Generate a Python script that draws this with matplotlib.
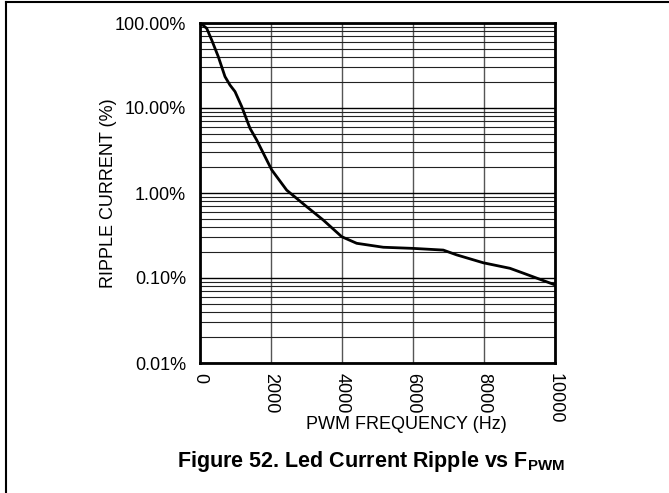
import matplotlib.pyplot as plt
from matplotlib.ticker import FixedLocator, LogLocator, NullFormatter
from matplotlib.lines import Line2D

plt.rcParams['font.family'] = ['Liberation Sans', 'DejaVu Sans']
plt.rcParams['mathtext.fontset'] = 'custom'
plt.rcParams['mathtext.rm'] = 'Liberation Sans'
plt.rcParams['mathtext.bf'] = 'Liberation Sans:bold'

# curve (frequency in Hz, ripple in %)
freq = [0, 76, 189, 330, 515, 704, 845, 986, 1175, 1408, 1597, 2020, 2442,
        3006, 3473, 3992, 4414, 5163, 6008, 6854, 7231, 7980, 8732, 9107, 10000]
ripple = [100, 94.7, 86.5, 63, 40.2, 23.4, 18.6, 15.6, 10.4, 5.77, 4.2, 1.87, 1.08,
          0.69, 0.48, 0.306, 0.256, 0.230, 0.223, 0.213, 0.187, 0.151, 0.130, 0.114, 0.083]

x_ticks = [0, 2000, 4000, 6000, 8000, 10000]
y_ticks = [0.01, 0.1, 1, 10, 100]
y_labels = ['0.01%', '0.10%', '1.00%', '10.00%', '100.00%']

fig = plt.figure(figsize=(6.69, 4.93), dpi=100)
ax = fig.add_axes([200 / 669, 1 - 363 / 493, 355 / 669, 340 / 493])

ax.set_yscale('log')
ax.set_xlim(0, 10000)
ax.set_ylim(0.01, 100)

ax.plot(freq, ripple, color='black', lw=2, zorder=3)

ax.xaxis.set_major_locator(FixedLocator(x_ticks))
ax.set_xticks(x_ticks)
ax.set_xticklabels([str(v) for v in x_ticks], rotation=270, fontsize=13)
ax.set_yticks(y_ticks)
ax.set_yticklabels(y_labels, fontsize=13)
ax.yaxis.set_minor_locator(LogLocator(base=10, subs=range(2, 10)))
ax.yaxis.set_minor_formatter(NullFormatter())
ax.tick_params(axis='x', which='both', length=0, pad=7)
ax.tick_params(axis='y', which='both', length=0, pad=10)

ax.grid(True, axis='x', which='major', color='#555555', lw=1)
ax.grid(True, axis='y', which='major', color='black', lw=1)
ax.grid(True, axis='y', which='minor', color='#222222', lw=0.8)

for s in ax.spines.values():
    s.set_linewidth(2)

ax.set_xlabel('PWM FREQUENCY (Hz)', fontsize=13)
ax.set_ylabel('RIPPLE CURRENT (%)', fontsize=13)
ax.xaxis.set_label_coords(0.58, -0.155)
ax.yaxis.set_label_coords(-0.234, 0.5)

fig.text(0.555, 1 - 462 / 493, r'Figure 52. Led Current Ripple vs $\mathbf{F}_{\mathbf{PWM}}$',
         fontsize=15.5, fontweight='bold', ha='center', va='center')

# frame around the figure (left and top visible)
fig.add_artist(Line2D([6 / 669, 6 / 669], [0, 1 - 2 / 493], color='black', lw=1.5))
fig.add_artist(Line2D([6 / 669, 1], [1 - 2 / 493, 1 - 2 / 493], color='black', lw=1.5))

fig.savefig('out.png', dpi=100)
